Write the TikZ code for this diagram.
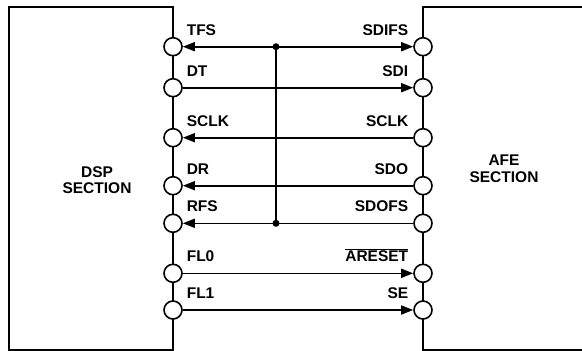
\documentclass[tikz,border=0pt]{standalone}
\usepackage{fontspec}
\setmainfont{Liberation Sans}
\usetikzlibrary{arrows.meta}
\begin{document}
\begin{tikzpicture}[x=1pt,y=-1pt,
  line width=1.6pt,
  pin/.style={circle,draw,fill=white,minimum size=18pt,inner sep=0pt,line width=1.6pt},
  lbl/.style={font=\fontsize{15.5}{17}\bfseries\selectfont,inner sep=0pt},
  sec/.style={font=\fontsize{15.5}{16.5}\bfseries\selectfont,align=center,inner sep=0pt},
  sig/.style={line width=1.6pt},
  tip/.style={-{Triangle[length=12pt,width=9pt]}},
  dot/.style={circle,fill=black,inner sep=0pt,minimum size=7pt}]
\useasboundingbox (0,0) rectangle (582,351);
% boxes
\draw (9,7) rectangle (173,350);
\draw (590,7) -- (423,7) -- (423,350) -- (590,350);
% section labels
\node[sec] (dsp) at (97,180) {DSP\\SECTION};
\node[sec] (afe) at (504,168.5) {AFE\\SECTION};
% left pins
\foreach \n/\y in {tfs/46.7,dt/87.7,sclkl/137.7,dr/185.7,rfs/223.3,flz/273.3,flo/310}
  \node[pin] (\n) at (173,\y) {};
\foreach \n/\y in {sdifs/46.7,sdi/87.7,sclkr/137.7,sdo/185.7,sdofs/223.3,areset/273.3,se/310}
  \node[pin] (\n) at (423,\y) {};
% left labels
\foreach \n/\t in {tfs/TFS,dt/DT,sclkl/SCLK,dr/DR,rfs/RFS,flz/FL0,flo/FL1}
  \node[lbl,anchor=base west] at ([xshift=13pt,yshift=11.7pt]\n.center) {\t};
\foreach \n/\t in {sdifs/SDIFS,sdi/SDI,sclkr/SCLK,sdo/SDO,sdofs/SDOFS,se/SE}
  \node[lbl,anchor=base east] at ([xshift=-14pt,yshift=11.7pt]\n.center) {\t};
\node[lbl,anchor=base east] at ([xshift=-14pt,yshift=11.7pt]areset.center) {$\overline{\hbox{ARESET}}$};
% bus
\coordinate (bt) at (276,46.7);
\coordinate (bb) at (276,223.3);
\draw[sig] (bt) -- (bb);
\node[dot] (dt1) at (bt) {};
\node[dot] (db1) at (bb) {};
% signals
\draw[sig,tip] (bt) -- (tfs);
\draw[sig,tip] (bt) -- (sdifs);
\draw[sig,tip] (dt) -- (sdi);
\draw[sig,tip] (sclkr) -- (sclkl);
\draw[sig,tip] (sdo) -- (dr);
\draw[sig,tip] (sdofs) -- (rfs);
\draw[sig,tip] (flz) -- (areset);
\draw[sig,tip] (flo) -- (se);
\end{tikzpicture}
\end{document}
